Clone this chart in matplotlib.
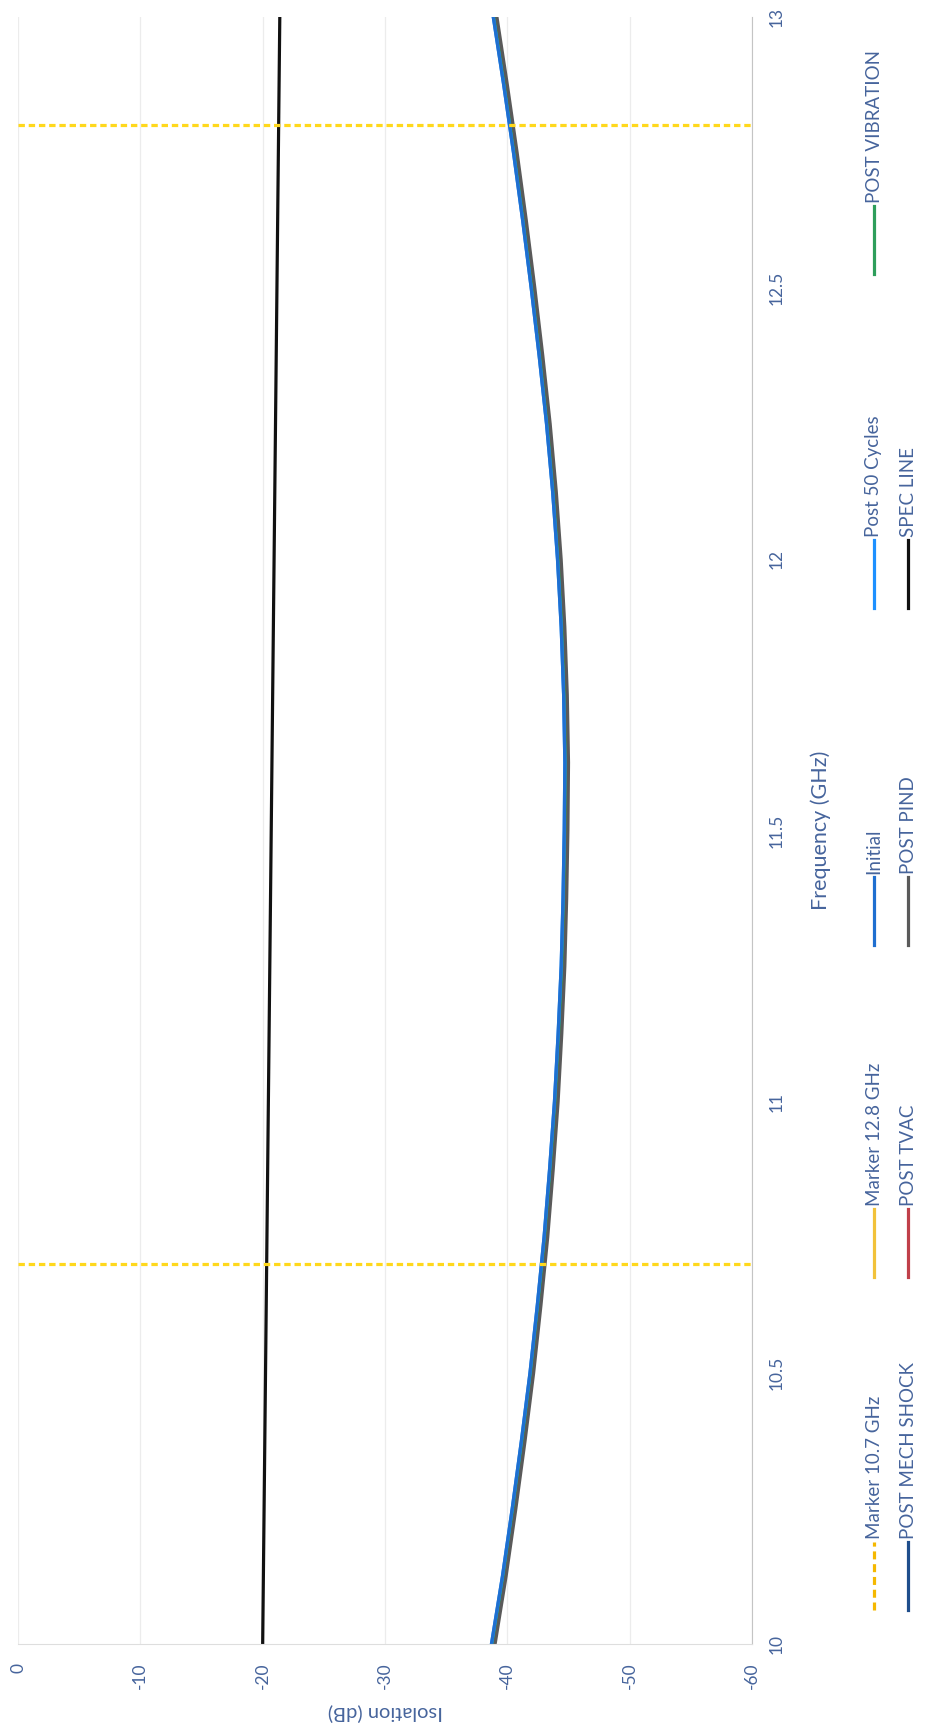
import matplotlib
matplotlib.use('Agg')
import matplotlib.pyplot as plt
from matplotlib.lines import Line2D

freq = [10.0, 10.125, 10.25, 10.375, 10.5, 10.625, 10.75, 10.875, 11.0, 11.125, 11.25, 11.375, 11.5,
        11.625, 11.75, 11.875, 12.0, 12.125, 12.25, 12.375, 12.5, 12.625, 12.75, 12.875, 13.0]
initial         = [-38.7, -39.6, -40.4, -41.15, -41.85, -42.45, -43.0, -43.45, -43.85, -44.15, -44.4, -44.55, -44.65,
                   -44.7, -44.6, -44.4, -44.1, -43.7, -43.2, -42.6, -41.95, -41.25, -40.5, -39.7, -38.85]
post_50_cycles  = [-38.7, -39.6, -40.4, -41.15, -41.85, -42.45, -43.0, -43.45, -43.85, -44.15, -44.4, -44.55, -44.65,
                   -44.7, -44.6, -44.4, -44.1, -43.7, -43.2, -42.6, -41.95, -41.25, -40.5, -39.7, -38.85]
post_vibration  = [-38.8, -39.7, -40.5, -41.25, -41.95, -42.55, -43.1, -43.55, -43.95, -44.25, -44.5, -44.65, -44.75,
                   -44.8, -44.7, -44.5, -44.2, -43.8, -43.3, -42.7, -42.05, -41.35, -40.6, -39.8, -38.95]
post_mech_shock = [-38.8, -39.7, -40.5, -41.25, -41.95, -42.55, -43.1, -43.55, -43.95, -44.25, -44.5, -44.65, -44.75,
                   -44.8, -44.7, -44.5, -44.2, -43.8, -43.3, -42.7, -42.05, -41.35, -40.6, -39.8, -38.95]
post_tvac       = [-38.9, -39.8, -40.6, -41.35, -42.05, -42.65, -43.2, -43.65, -44.05, -44.35, -44.6, -44.75, -44.85,
                   -44.9, -44.8, -44.6, -44.3, -43.9, -43.4, -42.8, -42.15, -41.45, -40.7, -39.9, -39.05]
post_pind       = [-39.0, -39.9, -40.7, -41.45, -42.15, -42.75, -43.3, -43.75, -44.15, -44.45, -44.7, -44.85, -44.95,
                   -45.0, -44.9, -44.7, -44.4, -44.0, -43.5, -42.9, -42.25, -41.55, -40.8, -40.0, -39.15]
spec_freq = [10.0, 13.0]
spec_line = [-20.0, -21.4]
marker_freqs = [10.7, 12.8]

iso_ticks = [0, -10, -20, -30, -40, -50, -60]
freq_ticks = [10, 10.5, 11, 11.5, 12, 12.5, 13]
freq_tick_labels = ['10', '10.5', '11', '11.5', '12', '12.5', '13']

# ── figure (chart is printed rotated 90° counter-clockwise) ───
W, H = 925, 1734
plt.rcParams['font.family'] = ['Lato', 'DejaVu Sans']
txt_col = '#46649c'
yellow = '#FFD81C'

fig = plt.figure(figsize=(W / 100, H / 100), dpi=100)
left, right, top, bottom = 18, 752, 17, 1644
ax = fig.add_axes([left / W, 1 - bottom / H, (right - left) / W, (bottom - top) / H])

series = [
    (post_mech_shock, '#1F4E8C'),
    (post_tvac,       '#C0404A'),
    (post_vibration,  '#2E9E5B'),
    (post_pind,       '#5a5a5a'),
    (post_50_cycles,  '#1E90FF'),
    (initial,         '#1f6fd0'),
]
for vals, c in series:
    ax.plot(vals, freq, color=c, lw=2.3)
ax.plot(spec_line, spec_freq, color='#111111', lw=2.3)
for f in marker_freqs:
    ax.axhline(f, color=yellow, lw=2.3, ls=(0, (2.0, 1.2)), zorder=5)

ax.set_xlim(0, -60)
ax.set_ylim(10, 13)
ax.set_xticks(iso_ticks)
ax.set_xticklabels([str(v) for v in iso_ticks], rotation=90, color=txt_col, fontsize=12.5)
ax.set_yticks(freq_ticks)
ax.set_yticklabels(freq_tick_labels, rotation=90, color=txt_col, fontsize=12.5, va='center')
ax.yaxis.tick_right()
ax.tick_params(axis='x', length=0, pad=13.5)
ax.tick_params(axis='y', length=0, pad=12)
ax.grid(axis='x', color='#ececec', lw=0.9)
ax.set_axisbelow(True)
for s in ['top', 'left']:
    ax.spines[s].set_visible(False)
ax.spines['right'].set_color('#c4c4c4')
ax.spines['bottom'].set_color('#dedede')
ax.spines['bottom'].set_linestyle((0, (2, 1)))

ax.set_xlabel('Isolation (dB)', rotation=180, color=txt_col, fontsize=14.5, va='center')
ax.xaxis.set_label_coords(0.5, (bottom - 1713) / (bottom - top))
ax.yaxis.set_label_position('right')
ax.set_ylabel('Frequency (GHz)', rotation=90, color=txt_col, fontsize=15.5, va='center')
ax.yaxis.set_label_coords((821 - left) / (right - left), 0.5)

# ── legend, drawn rotated: two rows of entries running upward ─
legend = [
    ('Marker 10.7 GHz', '#F5B800', (0, (2.5, 1.5)), 874, 1610),
    ('Marker 12.8 GHz', '#F2C23A', '-', 874, 1277),
    ('Initial', '#1f6fd0', '-', 874, 945),
    ('Post 50 Cycles', '#1E90FF', '-', 874, 608),
    ('POST VIBRATION', '#2E9E5B', '-', 874, 274),
    ('POST MECH SHOCK', '#1F4E8C', '-', 908, 1610),
    ('POST TVAC', '#C0404A', '-', 908, 1277),
    ('POST PIND', '#5a5a5a', '-', 908, 945),
    ('SPEC LINE', '#111111', '-', 908, 608),
]
for label, c, ls, x, y0 in legend:
    y1 = y0 - 68
    fig.add_artist(Line2D([x / W, x / W], [1 - y0 / H, 1 - y1 / H],
                          transform=fig.transFigure, color=c, lw=2.3, ls=ls))
    fig.text(x / W, 1 - (y1 - 3) / H, label, rotation=90, ha='center', va='bottom',
             color=txt_col, fontsize=13.5)

fig.savefig('out.png', dpi=100)
